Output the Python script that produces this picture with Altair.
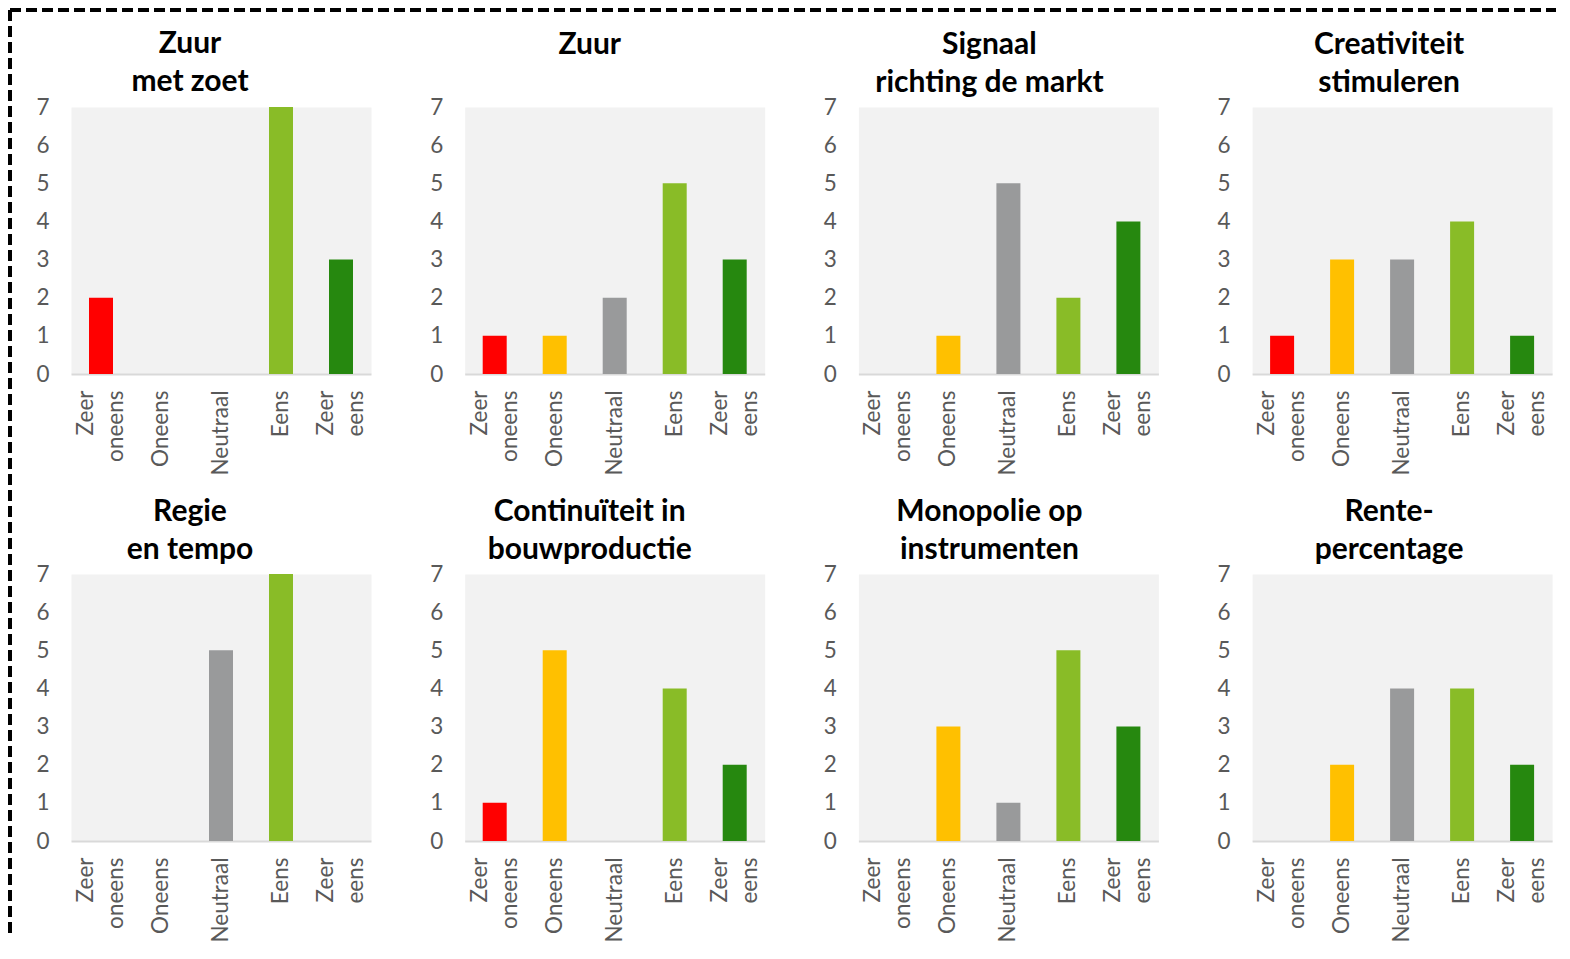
import altair as alt
import pandas as pd

categories = ["Zeer oneens", "Oneens", "Neutraal", "Eens", "Zeer eens"]
colors = ["#ff0000", "#ffc000", "#999a9b", "#89bc27", "#26880f"]

titles = [
    ["Zuur", "met zoet"],
    ["Zuur", " "],
    ["Signaal", "richting de markt"],
    ["Creativiteit", "stimuleren"],
    ["Regie", "en tempo"],
    ["Continuïteit in", "bouwproductie"],
    ["Monopolie op", "instrumenten"],
    ["Rente-", "percentage"],
]

zuur_met_zoet = [2, 0, 0, 7, 3]
zuur = [1, 1, 2, 5, 3]
signaal = [0, 1, 5, 2, 4]
creativiteit = [1, 3, 3, 4, 1]
regie = [0, 0, 5, 7, 0]
continuiteit = [1, 5, 0, 4, 2]
monopolie = [0, 3, 1, 5, 3]
rente = [0, 2, 4, 4, 2]

series = [zuur_met_zoet, zuur, signaal, creativiteit, regie, continuiteit, monopolie, rente]
y_ticks = [0, 1, 2, 3, 4, 5, 6, 7]

FONT = "Lato"
W, H = 300, 267
title_dx = [-31, -25, -19, -13]
NB = "\u00a0"
label_expr = (
    "datum.value == 'Zeer oneens' ? ['Zeer" + NB * 3 + "', 'oneens'] : split(datum.label, ' ')"
)


def panel(i, title, values):
    df = pd.DataFrame({"cat": categories, "val": values})
    bars = alt.Chart(df).mark_bar().encode(
        x=alt.X(
            "cat:N",
            sort=categories,
            scale=alt.Scale(domain=categories, paddingInner=0.6, paddingOuter=0.3),
            axis=alt.Axis(
                title=None,
                labelAngle=-90,
                labelExpr=label_expr,
                labelLineHeight=30,
                labelPadding=16,
                labelOffset={
                    "condition": {"test": "indexof(datum.value, ' ') >= 0", "value": -15},
                    "value": 0,
                },
                ticks=False,
                domainColor="#d9d9d9",
                domainWidth=2,
                grid=False,
            ),
        ),
        y=alt.Y(
            "val:Q",
            scale=alt.Scale(domain=[0, 7], nice=False),
            axis=alt.Axis(
                title=None,
                values=y_ticks,
                domain=False,
                ticks=False,
                grid=False,
                labelPadding=22,
            ),
        ),
        color=alt.Color("cat:N", scale=alt.Scale(domain=categories, range=colors), legend=None),
    )
    dy = 16
    if i == 0:
        one = alt.Data(values=[{"a": 1}])
        left = alt.Chart(one).mark_rule(color="black", strokeWidth=4, strokeDash=[11, 5]).encode(
            x=alt.value(-61), y=alt.value(-97), y2=alt.value(830)
        )
        top = alt.Chart(one).mark_rule(color="black", strokeWidth=4, strokeDash=[11, 5]).encode(
            y=alt.value(-97), x=alt.value(-61), x2=alt.value(1485)
        )
        ch = alt.layer(bars, left, top)
        dy = 16 + 87
    else:
        ch = bars
    return ch.properties(
        width=W,
        height=H,
        title=alt.TitleParams(text=title, frame="group", dx=title_dx[i % 4], dy=dy),
    )


charts = [panel(i, t, v) for i, (t, v) in enumerate(zip(titles, series))]

chart = (
    alt.concat(*charts, columns=4, spacing={"row": 200, "column": 93.7}, bounds="flush")
    .properties(padding={"left": -1, "top": -1, "right": 0, "bottom": 0})
    .configure_view(fill="#f2f2f2", stroke="transparent")
    .configure_axis(labelFont=FONT, labelColor="#595959", labelFontSize=22.5)
    .configure_title(font=FONT, fontSize=30, fontWeight="bold", color="black", lineHeight=38, offset=14, anchor="middle")
)

chart.save("out.html", embed_options={"renderer": "svg", "actions": False})
